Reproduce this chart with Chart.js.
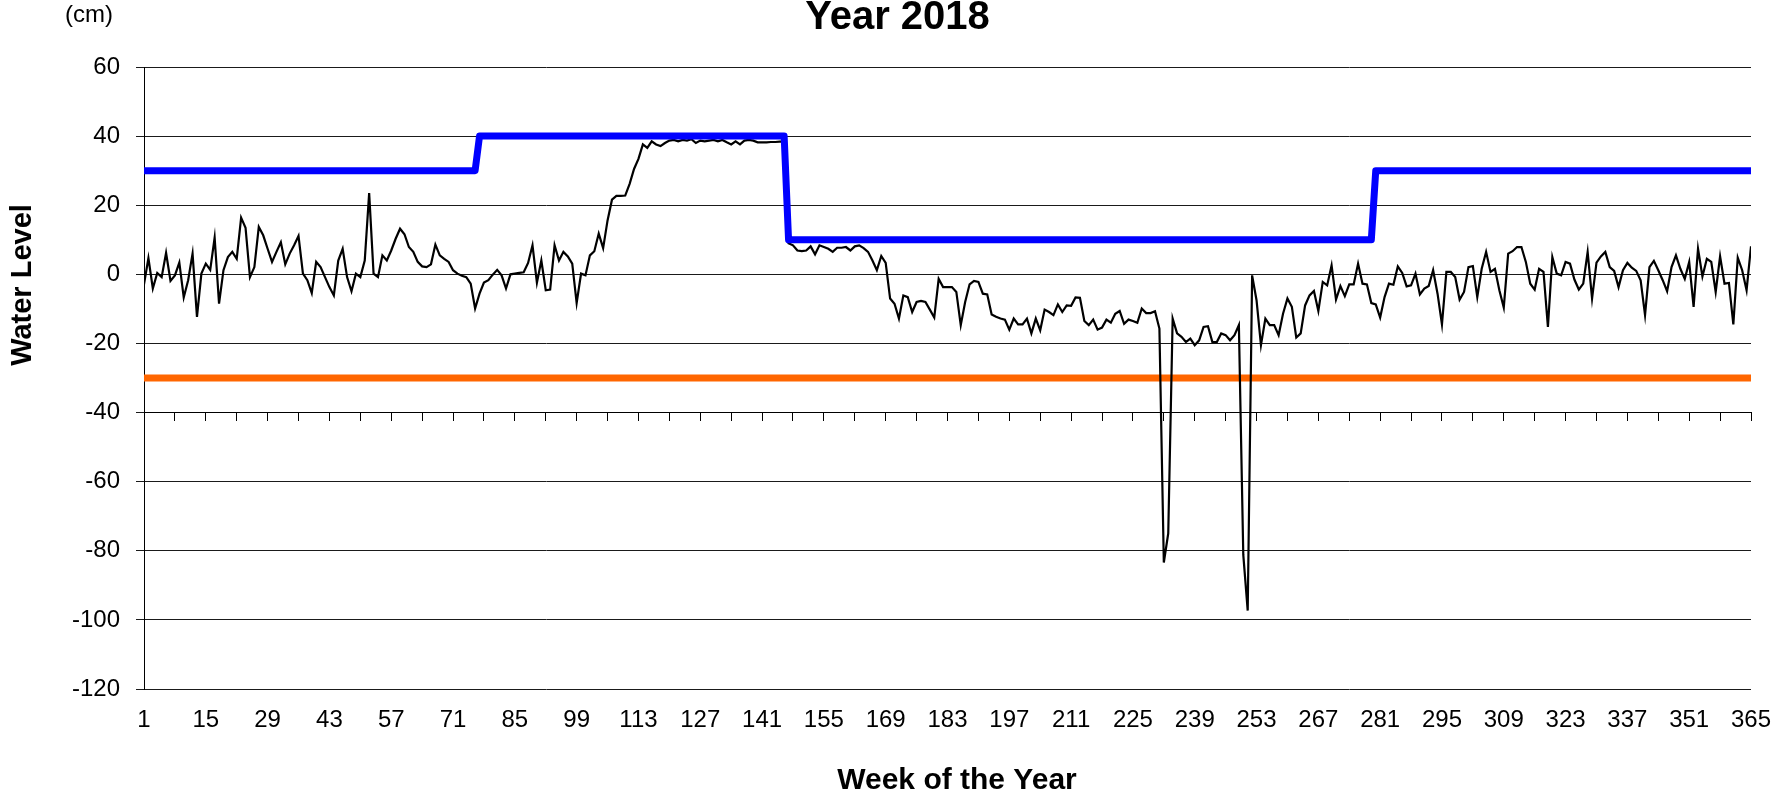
<!DOCTYPE html>
<html>
<head>
<meta charset="utf-8">
<script src="https://cdn.jsdelivr.net/npm/chart.js@4.4.1/dist/chart.umd.min.js"></script>
<style>
  html, body { margin: 0; padding: 0; background: #fff; }
  #wrap { width: 1775px; height: 801px; }
</style>
</head>
<body>
<div id="wrap"><canvas id="levelChart" width="1775" height="801"></canvas></div>
<script>
const chartTitle = 'Year 2018';
const unitLabel = '(cm)';
const yTitle = 'Water Level';
const xTitle = 'Week of the Year';

// tick labels on the bottom axis
const xLabelTicks = [1, 15, 29, 43, 57, 71, 85, 99, 113, 127, 141, 155, 169, 183, 197, 211, 225, 239, 253, 267, 281, 295, 309, 323, 337, 351, 365];

// measured water level, one value per day (1..365)
const waterLevel = [
  -2.9, 4.7, -4.1, 0.4, -0.8, 6.2, -1.9, -0.3, 3.4, -6.7,
  -1.7, 6.0, -12.3, 0.2, 3.1, 1.3, 10.6, -8.5, 1.2, 5.0,
  6.5, 4.5, 16.4, 13.5, -0.8, 2.1, 13.7, 11.3, 7.4, 3.6,
  6.5, 9.3, 2.9, 6.0, 8.4, 11.1, 0.2, -1.7, -5.4, 3.6,
  2.1, -0.8, -3.7, -6.1, 4.0, 7.4, -0.8, -4.9, 0.2, -0.8,
  4.0, 23.5, 0.2, -0.8, 5.5, 4.0, 6.9, 10.3, 13.2, 11.6,
  7.9, 6.5, 3.6, 2.3, 2.1, 2.9, 8.6, 5.5, 4.5, 3.6,
  1.2, 0.2, -0.4, -0.8, -2.7, -9.9, -5.6, -2.4, -1.7, -0.1,
  1.3, -0.3, -4.1, 0.0, 0.2, 0.4, 0.6, 3.3, 8.4, -2.4,
  4.0, -4.6, -4.4, 8.4, 4.0, 6.5, 5.2, 3.1, -8.3, 0.2,
  -0.3, 5.5, 6.7, 11.8, 7.6, 15.6, 21.6, 22.7, 22.7, 22.8,
  26.2, 30.5, 33.4, 37.6, 36.6, 38.5, 37.6, 37.1, 38.0, 38.7,
  38.9, 38.5, 38.9, 38.7, 39.1, 38.0, 38.7, 38.5, 38.7, 38.9,
  38.5, 38.9, 38.2, 37.6, 38.5, 37.6, 38.7, 38.9, 38.7, 38.2,
  38.2, 38.2, 38.3, 38.3, 38.4, 38.4, 9.0, 8.4, 6.9, 6.7,
  6.9, 8.1, 5.8, 8.4, 7.9, 7.4, 6.5, 7.7, 7.7, 7.9,
  6.9, 8.1, 8.4, 7.6, 6.5, 4.0, 1.2, 5.3, 3.3, -7.0,
  -8.5, -12.8, -6.1, -6.6, -10.9, -8.0, -7.7, -8.0, -10.2, -12.5,
  -1.3, -3.7, -3.7, -3.7, -5.1, -14.7, -8.0, -2.9, -1.9, -2.2,
  -5.6, -5.8, -11.6, -12.3, -12.8, -13.1, -16.0, -12.8, -14.5, -14.5,
  -12.8, -17.1, -12.8, -16.2, -10.2, -10.9, -11.8, -8.7, -10.9, -9.0,
  -9.1, -6.7, -6.8, -13.5, -14.7, -13.1, -16.0, -15.4, -13.1, -14.0,
  -11.4, -10.6, -14.3, -13.1, -13.5, -14.0, -9.9, -11.2, -11.2, -10.7,
  -15.7, -83.4, -75.0, -12.8, -17.1, -18.1, -19.6, -18.6, -20.5, -19.1,
  -15.2, -15.0, -19.6, -19.6, -17.1, -17.6, -19.1, -17.6, -14.7, -81.2,
  -97.3, -0.3, -7.5, -20.5, -12.8, -14.7, -14.7, -17.6, -11.4, -7.0,
  -9.4, -18.3, -17.1, -9.0, -6.1, -4.8, -10.6, -2.2, -3.2, 2.6,
  -7.3, -3.4, -6.3, -2.9, -2.9, 3.1, -2.7, -2.9, -8.3, -8.7,
  -12.5, -6.6, -2.7, -3.0, 2.3, 0.4, -3.5, -3.2, 0.2, -5.8,
  -4.1, -3.4, 1.2, -5.6, -14.5, 0.7, 0.7, -0.8, -7.3, -5.1,
  2.1, 2.4, -6.6, 1.6, 6.5, 0.7, 1.6, -4.6, -9.6, 6.0,
  6.7, 7.9, 7.9, 3.6, -2.7, -4.4, 1.6, 0.7, -15.2, 5.0,
  0.2, -0.3, 3.6, 3.1, -1.5, -4.4, -2.7, 6.5, -7.0, 3.4,
  5.2, 6.5, 2.1, 1.0, -3.7, 1.2, 3.3, 1.9, 1.0, -1.7,
  -11.8, 2.1, 3.9, 1.2, -1.7, -4.9, 2.1, 5.5, 1.6, -1.3,
  3.6, -9.4, 7.4, -0.6, 4.5, 3.6, -5.1, 5.2, -2.7, -2.5,
  -14.5, 4.8, 1.2, -4.6, 8.1
];

// upper limit (blue step line), corner points
const upperDays = [1, 76, 77, 146, 147, 279, 280, 365];
const upperLevel = [30, 30, 40, 40, 10, 10, 30, 30];

// lower limit (orange line)
const lowerDays = [1, 365];
const lowerLevel = [-30, -30];

const days = waterLevel.map((v, i) => i + 1);
const toPoints = (xs, ys) => xs.map((x, i) => ({ x, y: ys[i] }));

// minor ticks on the axis line at -40: every 7 days
const xMinorTicks = xLabelTicks.flatMap(v => [v, v + 7]).filter(v => v <= 365);

const FONT = '"Liberation Sans", Arial, sans-serif';

// unit label, rotated y title, x title
const sideText = {
    id: 'sideText',
    afterDraw(chart) {
        const ctx = chart.ctx;
        ctx.save();
        ctx.fillStyle = '#000';
        ctx.textAlign = 'center';
        ctx.textBaseline = 'middle';
        ctx.font = '24px ' + FONT;
        ctx.fillText(unitLabel, 89, 15);
        ctx.font = 'bold 30px ' + FONT;
        ctx.fillText(xTitle, 957, 781);
        ctx.translate(23, 285);
        ctx.rotate(-Math.PI / 2);
        ctx.font = 'bold 29px ' + FONT;
        ctx.fillText(yTitle, 0, 0);
        ctx.restore();
    }
};

new Chart(document.getElementById('levelChart'), {
    type: 'line',
    data: {
        labels: days,
        datasets: [
            {
                label: 'Upper',
                data: toPoints(upperDays, upperLevel),
                borderColor: '#0000ff',
                borderWidth: 7,
                borderJoinStyle: 'round',
                borderCapStyle: 'round',
                pointRadius: 0,
                order: 1
            },
            {
                label: 'Level',
                data: waterLevel,
                borderColor: '#000',
                borderWidth: 2.2,
                pointRadius: 0,
                order: 2
            },
            {
                label: 'Lower',
                data: toPoints(lowerDays, lowerLevel),
                borderColor: '#ff6600',
                borderWidth: 7,
                borderCapStyle: 'round',
                pointRadius: 0,
                order: 3
            }
        ]
    },
    options: {
        responsive: false,
        animation: false,
        layout: { padding: { left: 44, right: 24, top: 0, bottom: 0 } },
        plugins: {
            legend: { display: false },
            tooltip: { enabled: false },
            title: {
                display: true,
                text: chartTitle,
                color: '#000',
                font: { family: FONT, size: 40, weight: 'bold', lineHeight: 0.9 },
                padding: { top: 0, bottom: 31 }
            }
        },
        scales: {
            x: {
                type: 'linear',
                min: 1,
                max: 365,
                afterBuildTicks: s => { s.ticks = xLabelTicks.map(value => ({ value })); },
                afterFit: s => { s.height = 112; },
                grid: { display: false, drawTicks: true, tickLength: 17 },
                border: { display: false },
                ticks: {
                    autoSkip: false,
                    maxRotation: 0,
                    padding: 0,
                    color: '#000',
                    font: { family: FONT, size: 24 }
                }
            },
            x2: {
                type: 'linear',
                axis: 'x',
                position: { y: -40 },
                min: 1,
                max: 365,
                afterBuildTicks: s => { s.ticks = xMinorTicks.map(value => ({ value })); },
                grid: { drawOnChartArea: false, drawTicks: true, tickLength: 8, color: '#000' },
                border: { display: true, color: '#000', width: 1 },
                ticks: { autoSkip: false, maxRotation: 0, padding: 0, color: 'rgba(0,0,0,0)' }
            },
            y: {
                min: -120,
                max: 60,
                afterFit: s => { s.width = 100; },
                ticks: {
                    stepSize: 20,
                    padding: 16,
                    color: '#000',
                    font: { family: FONT, size: 24 }
                },
                grid: { color: '#1a1a1a', lineWidth: 1, tickLength: 8 },
                border: { color: '#000', width: 1 }
            }
        }
    },
    plugins: [sideText]
});
</script>
</body>
</html>
